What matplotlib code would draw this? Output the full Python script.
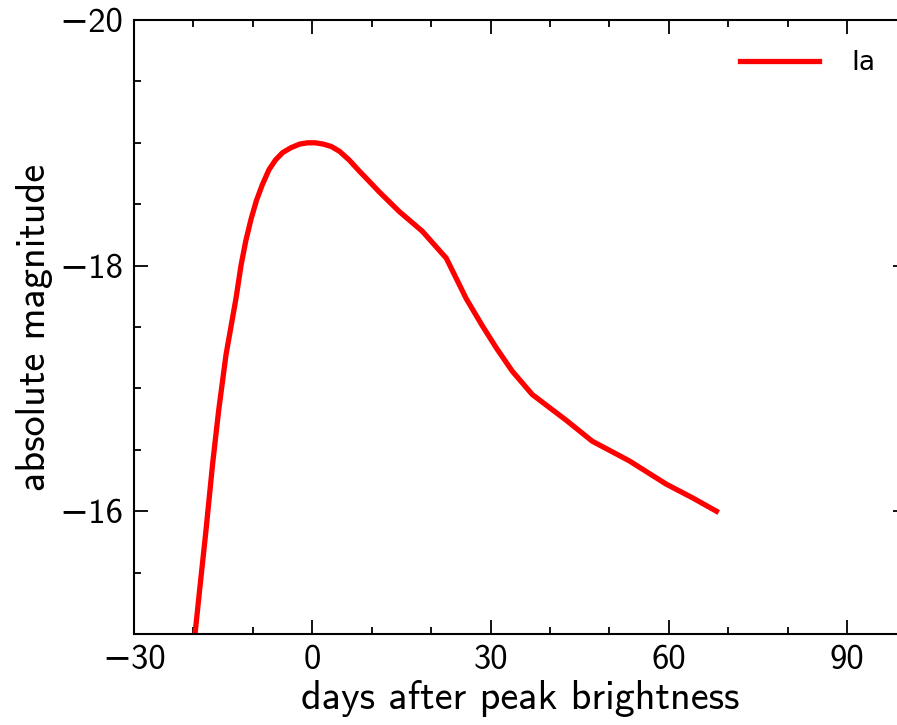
import numpy as np
import matplotlib
matplotlib.use("Agg")
import matplotlib.pyplot as plt
from matplotlib.ticker import MultipleLocator

plt.rcParams['font.family'] = ['cmss10', 'DejaVu Sans']
plt.rcParams['axes.formatter.use_mathtext'] = False

# type Ia light curve (days after peak, absolute magnitude)
days = [-19.8, -18.9, -17.89, -16.78, -15.77, -14.52, -12.84, -12.0, -11.2, -10.3,
        -9.4, -8.4, -7.3, -6.2, -5.0, -3.6, -2.1, -0.8, 0.5, 1.8,
        3.2, 4.6, 6.2, 7.91, 9.5, 11.27, 14.64, 18.51, 22.55, 25.91,
        28.61, 30.96, 33.65, 37.02, 42.74, 47.11, 53.34, 59.57, 63.94, 68.0]
mag = [-14.97, -15.385, -15.844, -16.383, -16.815, -17.274, -17.733, -18.0, -18.2, -18.38,
       -18.53, -18.66, -18.78, -18.86, -18.92, -18.96, -18.99, -19.0, -19.0, -18.99,
       -18.97, -18.93, -18.86, -18.77, -18.69, -18.6, -18.44, -18.28, -18.06, -17.73,
       -17.51, -17.33, -17.14, -16.95, -16.74, -16.57, -16.41, -16.22, -16.11, -16.0]

fig = plt.figure(figsize=(8.97, 7.25), dpi=100)
ax = fig.add_axes([0.1494, 0.1255, 0.8613, 0.8469])

ax.plot(days, mag, color='red', lw=3.8, label='Ia', solid_joinstyle='round')

ax.set_xlim(-30, 100)
ax.set_ylim(-15, -20)
ax.xaxis.set_major_locator(MultipleLocator(30))
ax.xaxis.set_minor_locator(MultipleLocator(10))
ax.yaxis.set_major_locator(MultipleLocator(2))
ax.yaxis.set_minor_locator(MultipleLocator(0.5))
ax.tick_params(which='both', direction='in', top=True, right=True, width=1.3, labelsize=25, pad=8)
ax.tick_params(which='major', length=10)
ax.tick_params(which='minor', length=5)
for s in ax.spines.values():
    s.set_linewidth(1.5)

ax.set_xlabel('days after peak brightness', fontsize=29, labelpad=3)
ax.set_ylabel('absolute magnitude', fontsize=29, labelpad=4)

leg = ax.legend(loc='upper right', bbox_to_anchor=(0.99, 0.99), frameon=False,
                handlelength=3, handletextpad=1.2,
                prop={'family': 'DejaVu Sans', 'size': 19})

fig.savefig('out.png', dpi=100)
